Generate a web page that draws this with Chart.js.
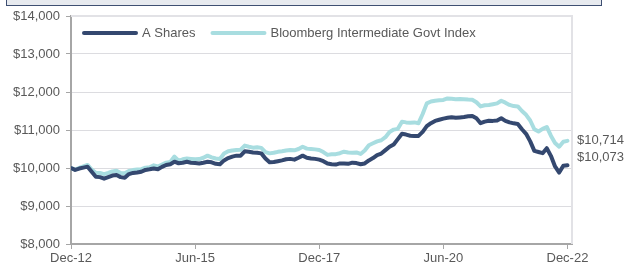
<!DOCTYPE html>
<html>
<head>
<meta charset="utf-8">
<script src="https://cdn.jsdelivr.net/npm/chart.js@4.4.0/dist/chart.umd.min.js"></script>
<style>
  html, body { margin: 0; padding: 0; background: #ffffff; overflow: hidden; }
  #wrap { position: relative; width: 625px; height: 270px; }
  #topbox { position: absolute; left: 6px; top: -20px; width: 594px; height: 24px;
            background: #e7eaef; border: 1px solid #3e4f72; }
  canvas { position: absolute; left: 0; top: 0; }
</style>
</head>
<body>
<div id="wrap">
  <div id="topbox"></div>
  <canvas id="c" width="625" height="270"></canvas>
</div>
<script>
// ---- data ----
const seriesNames = ['A Shares', 'Bloomberg Intermediate Govt Index'];
const tickLabels = ['Dec-12', 'Jun-15', 'Dec-17', 'Jun-20', 'Dec-22'];
const aShares = [
  10000, 9950, 9985, 10010, 10035, 9900, 9770, 9760, 9720, 9760,
  9800, 9815, 9760, 9745, 9840, 9870, 9880, 9900, 9950, 9965,
  9985, 9965, 10030, 10080, 10100, 10165, 10125, 10140, 10165, 10140,
  10130, 10120, 10140, 10165, 10150, 10110, 10100, 10200, 10260, 10300,
  10325, 10325, 10440, 10430, 10410, 10400, 10385, 10250, 10150, 10160,
  10180, 10200, 10230, 10240, 10220, 10270, 10325, 10270, 10250, 10240,
  10220, 10180, 10120, 10100, 10090, 10120, 10120, 10110, 10140, 10130,
  10100, 10120, 10200, 10260, 10340, 10380, 10470, 10560, 10620, 10760,
  10900, 10880, 10850, 10840, 10845, 10950, 11100, 11180, 11240, 11270,
  11300, 11320, 11335, 11320, 11330, 11340, 11360, 11370, 11310, 11180,
  11220, 11245, 11240, 11250, 11310, 11240, 11200, 11175, 11160, 11020,
  10900, 10700, 10450, 10420, 10390, 10520, 10320, 10040, 9880, 10060,
  10073
];
const govtIndex = [
  10000, 9960, 10000, 10040, 10080, 9960, 9875, 9870, 9840, 9870,
  9910, 9930, 9870, 9860, 9920, 9945, 9960, 9970, 10010, 10020,
  10070, 10040, 10090, 10140, 10160, 10300, 10190, 10230, 10250, 10240,
  10230, 10235, 10270, 10325, 10280, 10250, 10235, 10380, 10440, 10460,
  10475, 10480, 10590, 10560, 10535, 10545, 10530, 10420, 10385, 10400,
  10425, 10440, 10460, 10475, 10465, 10500, 10560, 10510, 10500, 10490,
  10475, 10420, 10345, 10360, 10365, 10390, 10430, 10410, 10400, 10410,
  10370, 10460, 10600, 10650, 10700, 10730, 10810, 10950, 11010, 11030,
  11220, 11200, 11190, 11200, 11180, 11420, 11700, 11750, 11770, 11780,
  11790, 11830, 11820, 11810, 11815, 11810, 11800, 11795, 11730, 11620,
  11650, 11660, 11680, 11700, 11770, 11720, 11660, 11630, 11620, 11500,
  11400, 11250, 11020, 10960, 11030, 11080, 10850, 10660, 10560, 10690,
  10714
];

// month categories Dec-12 .. Dec-22
const monthNames = ['Jan','Feb','Mar','Apr','May','Jun','Jul','Aug','Sep','Oct','Nov','Dec'];
const months = aShares.map((_, i) => {
  const m = (11 + i) % 12;
  const y = 12 + Math.floor((11 + i) / 12);
  return monthNames[m] + '-' + String(y).padStart(2, '0');
});

const COLORS = ['#34486f', '#a8dde0'];
const TEXT = '#595959';
const FONT = '"Liberation Sans", Arial, sans-serif';

const fmt = v => '$' + Math.round(v).toLocaleString('en-US');

const decorPlugin = {
  id: 'decor',
  beforeDatasetsDraw(chart) {
    const { ctx, chartArea: a } = chart;
    ctx.save();
    ctx.strokeStyle = '#e2e2e6';
    ctx.lineWidth = 2;
    ctx.beginPath();
    ctx.moveTo(a.left, a.top);
    ctx.lineTo(a.right, a.top);
    ctx.lineTo(a.right, a.bottom);
    ctx.stroke();
    ctx.restore();
  },
  afterDraw(chart) {
    const { ctx, chartArea: a } = chart;
    const ys = chart.scales.y;
    ctx.save();
    ctx.font = '13px ' + FONT;
    // legend
    let x = a.left + 12;
    const ly = a.top + 17;
    chart.data.datasets.forEach(ds => {
      ctx.strokeStyle = ds.borderColor;
      ctx.lineWidth = 4;
      ctx.lineCap = 'round';
      ctx.beginPath();
      ctx.moveTo(x + 1, ly);
      ctx.lineTo(x + 53, ly);
      ctx.stroke();
      ctx.fillStyle = TEXT;
      ctx.textBaseline = 'middle';
      ctx.textAlign = 'left';
      ctx.fillText(ds.label, x + 59, ly);
      x += 59 + ctx.measureText(ds.label).width + 16;
    });
    // end labels (stacked, top one at its line)
    const ends = chart.data.datasets.map(ds => {
      const v = ds.data[ds.data.length - 1].y;
      return { v, y: ys.getPixelForValue(v) };
    }).sort((p, q) => p.y - q.y);
    let prev = null;
    ends.forEach(e => {
      const yy = prev === null ? e.y : prev + 17;
      ctx.fillStyle = TEXT;
      ctx.textAlign = 'left';
      ctx.textBaseline = 'middle';
      ctx.fillText(fmt(e.v), a.right + 5, yy);
      prev = yy;
    });
    ctx.restore();
  }
};

new Chart(document.getElementById('c'), {
  type: 'line',
  data: {
    datasets: [
      { label: seriesNames[0], data: aShares.map((v, i) => ({ x: i, y: v })),
        borderColor: COLORS[0], backgroundColor: COLORS[0] },
      { label: seriesNames[1], data: govtIndex.map((v, i) => ({ x: i, y: v })),
        borderColor: COLORS[1], backgroundColor: COLORS[1] }
    ]
  },
  options: {
    responsive: false,
    animation: false,
    layout: { padding: { left: 0, right: 53, top: 16, bottom: 0 } },
    elements: {
      point: { radius: 0 },
      line: { borderWidth: 4, tension: 0, borderJoinStyle: 'round', borderCapStyle: 'round' }
    },
    plugins: { legend: { display: false }, tooltip: { enabled: false } },
    scales: {
      x: {
        type: 'linear',
        min: 0,
        max: 121.1,
        afterBuildTicks: s => { s.ticks = tickLabels.map(l => ({ value: months.indexOf(l) })); },
        afterFit: s => { s.height = 26; },
        grid: { display: true, drawOnChartArea: false, drawTicks: true, tickLength: 5,
                tickColor: '#a6a6a6', color: '#a6a6a6' },
        border: { display: true, color: '#a6a6a6', width: 2 },
        ticks: { autoSkip: false, maxRotation: 0, padding: 2, color: TEXT,
                 font: { family: FONT, size: 13 },
                 callback: v => months[v] }
      },
      y: {
        min: 8000,
        max: 14000,
        afterFit: s => { s.width = 71; },
        grid: { color: '#dcdce0', lineWidth: 1, drawTicks: true, tickLength: 5, tickColor: '#a6a6a6' },
        border: { display: true, color: '#a6a6a6', width: 2 },
        ticks: { stepSize: 1000, padding: 6, color: TEXT,
                 font: { family: FONT, size: 13 },
                 callback: v => fmt(v) }
      }
    }
  },
  plugins: [decorPlugin]
});
</script>
</body>
</html>
